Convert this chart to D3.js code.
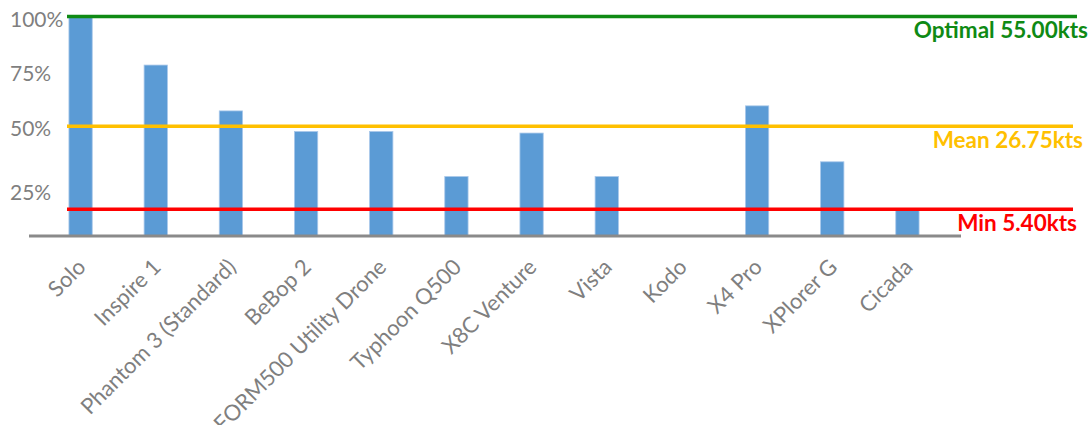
<!DOCTYPE html>
<html>
<head>
<meta charset="utf-8">
<script src="https://cdn.jsdelivr.net/npm/d3@7"></script>
<style>
  body { margin: 0; background: #fff; }
  svg { display: block; }
</style>
</head>
<body>
<svg id="chart" width="1092" height="425"></svg>
<script>
// ---- data (knots); Kodo has no value ----
const categories = ["Solo", "Inspire 1", "Phantom 3 (Standard)", "BeBop 2", "FORM500 Utility Drone",
  "Typhoon Q500", "X8C Venture", "Vista", "Kodo", "X4 Pro", "XPlorer G", "Cicada"];
const speedKts = [55, 42.5, 30.7, 25.4, 25.4, 13.8, 25.0, 13.8, null, 32.0, 17.6, 5.4];
const refNames = ["Optimal", "Mean", "Min"];
const refValues = [55.00, 26.75, 5.40];
const yTickLabels = ["100%", "75%", "50%", "25%"];
const yTickAtKts = [54.3, 40.3, 26.1, 9.6];

// ---- layout / style ----
const refColors = ["#0f8a14", "#ffc000", "#ff0000"];
const refLabelRight = [1088, 1083, 1077];
const barColor = "#5b9bd5";
const grey = "#8a8a8a";
const textGrey = "#7f7f7f";
const FONT = "Lato, 'Open Sans', sans-serif";

const svg = d3.select("#chart");

const x = d3.scaleBand().domain(categories).range([43, 945])
  .paddingInner(0.69).paddingOuter(0.345);
const y = d3.scaleLinear().domain([-1.5, 55]).range([236, 16.5]);

const barData = categories.map((c, i) => ({ c, v: speedKts[i] })).filter(d => d.v != null);

// bars
svg.append("g").selectAll("rect").data(barData).join("rect")
  .attr("x", d => x(d.c))
  .attr("width", x.bandwidth())
  .attr("y", d => y(d.v))
  .attr("height", d => y(-1.5) - y(d.v))
  .attr("fill", barColor)
  .attr("stroke", "#a9c8ea")
  .attr("stroke-width", 0.8);

// baseline axis
svg.append("line")
  .attr("x1", 29).attr("x2", 961)
  .attr("y1", y(-1.5)).attr("y2", y(-1.5))
  .attr("stroke", grey).attr("stroke-width", 3);

// y tick labels
svg.append("g").selectAll("text").data(yTickLabels).join("text")
  .attr("x", 10)
  .attr("y", (d, i) => y(yTickAtKts[i]))
  .attr("dy", "0.35em")
  .attr("fill", textGrey)
  .attr("font-family", FONT)
  .attr("font-size", 21)
  .text(d => d);

// category labels (rotated)
svg.append("g").selectAll("text").data(categories).join("text")
  .attr("transform", d => `translate(${x(d) + x.bandwidth() / 2 + 1},${263}) rotate(-45)`)
  .attr("text-anchor", "end")
  .attr("dy", "0.35em")
  .attr("fill", textGrey)
  .attr("font-family", FONT)
  .attr("font-size", 22)
  .text(d => d);

// reference lines
const refG = svg.append("g");
refG.selectAll("line").data(refValues).join("line")
  .attr("x1", 67)
  .attr("x2", (d, i) => i === 0 ? 1077 : 1073)
  .attr("y1", d => y(d)).attr("y2", d => y(d))
  .attr("stroke", (d, i) => refColors[i])
  .attr("stroke-width", 3.5);

refG.selectAll("text").data(refValues).join("text")
  .attr("x", (d, i) => refLabelRight[i])
  .attr("y", d => y(d) + 14)
  .attr("dy", "0.35em")
  .attr("text-anchor", "end")
  .attr("fill", (d, i) => refColors[i])
  .attr("font-family", FONT)
  .attr("font-weight", "bold")
  .attr("font-size", 22.5)
  .text((d, i) => `${refNames[i]} ${d.toFixed(2)}kts`);
</script>
</body>
</html>
